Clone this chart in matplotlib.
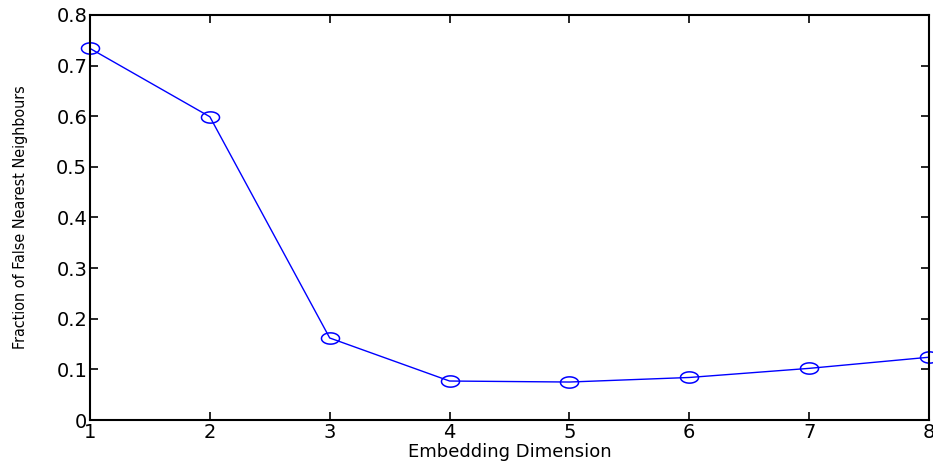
import matplotlib
matplotlib.use('Agg')
import matplotlib.pyplot as plt
from matplotlib.path import Path
import numpy as np

# Embedding dimension vs fraction of false nearest neighbours.
dimensions = [1, 2, 3, 4, 5, 6, 7, 8]
fnn_fraction = [0.734, 0.599, 0.162, 0.077, 0.075, 0.084, 0.102, 0.124]

y_ticks = [0, 0.1, 0.2, 0.3, 0.4, 0.5, 0.6, 0.7, 0.8]
y_tick_labels = ['0', '0.1', '0.2', '0.3', '0.4', '0.5', '0.6', '0.7', '0.8']

# the original picture is stretched sideways, so the circles are ellipses
t = np.linspace(0, 2 * np.pi, 60)
ellipse = Path(np.column_stack([1.6 * np.cos(t), np.sin(t)]), closed=True)

fig = plt.figure(figsize=(9.33, 4.65), dpi=100)
ax = fig.add_axes([90 / 933, 45 / 465, 839 / 933, 405 / 465])

ax.plot(dimensions, fnn_fraction, color='blue', linewidth=1,
        marker=ellipse, markersize=13, markerfacecolor='none',
        markeredgecolor='blue', markeredgewidth=1.1, clip_on=False)

ax.set_xlim(1, 8)
ax.set_ylim(0, 0.8)
ax.set_xticks(dimensions)
ax.set_yticks(y_ticks)
ax.set_yticklabels(y_tick_labels)

for side in ax.spines.values():
    side.set_linewidth(1.5)
ax.tick_params(direction='in', length=6, width=1.2, top=True, right=True,
               labelsize=14, pad=2)

ax.set_xlabel('Embedding Dimension', fontsize=13, labelpad=1)
ax.set_ylabel('Fraction of False Nearest Neighbours', fontsize=11.5,
              family='DejaVu Sans', fontstretch='condensed', labelpad=20)

fig.savefig('out.png', dpi=100)
